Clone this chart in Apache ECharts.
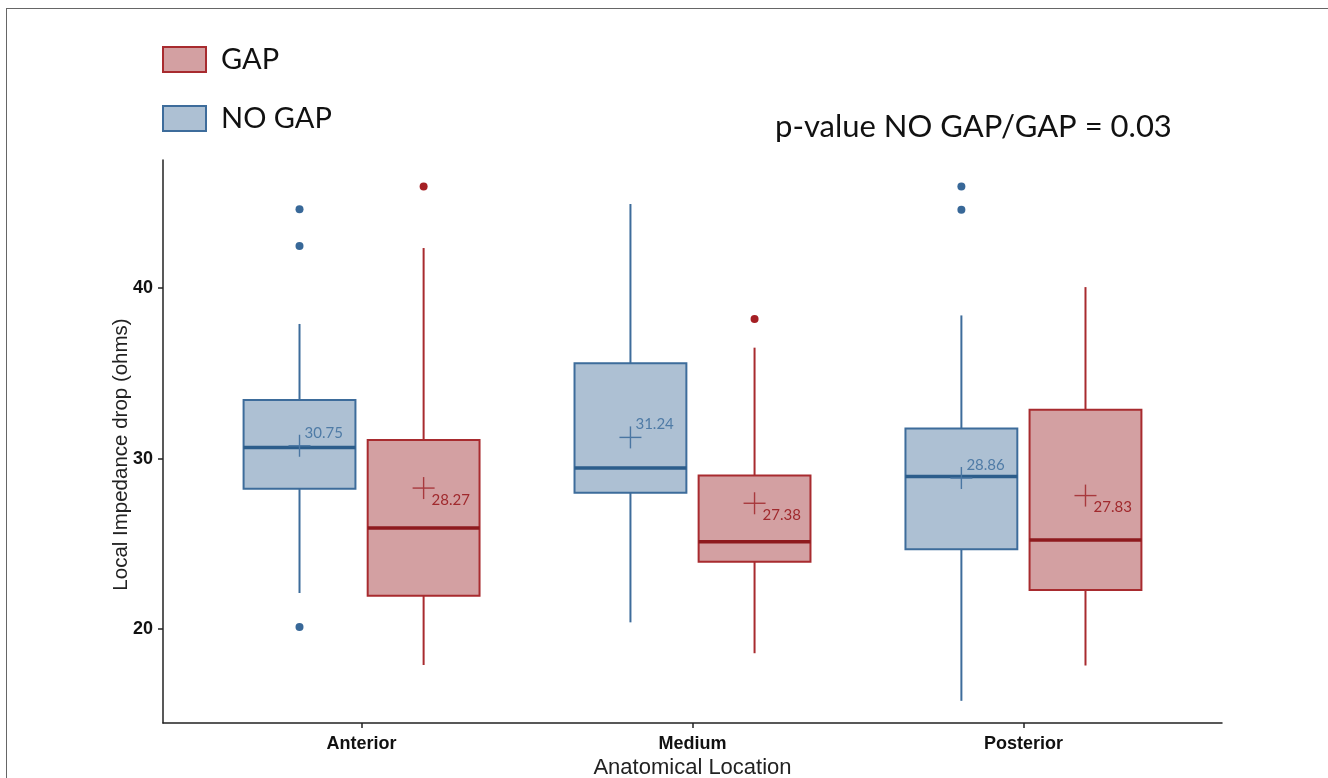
<!DOCTYPE html>
<html>
<head>
<meta charset="utf-8">
<script src="https://cdn.jsdelivr.net/npm/echarts@6/dist/echarts.min.js"></script>
<style>
  html, body { margin: 0; padding: 0; background: #fff; }
  #chart { width: 1328px; height: 778px; position: relative; }
  #frame { position: absolute; left: 6px; top: 8px; width: 1340px; height: 790px;
           border-top: 1.5px solid #666; border-left: 1.5px solid #666; pointer-events: none; }
</style>
</head>
<body>
<div id="chart"></div>
<div id="frame"></div>
<script>
// ---- data ----
const categories = ['Anterior', 'Medium', 'Posterior'];
// [lowWhisker, Q1, median, Q3, highWhisker]
const noGapStats = [
  [22.12, 28.23, 30.65, 33.43, 37.89],
  [20.40, 28.00, 29.45, 35.58, 44.92],
  [15.80, 24.68, 28.95, 31.76, 38.39]
];
const gapStats = [
  [17.90, 21.96, 25.93, 31.09, 42.34],
  [18.59, 23.95, 25.13, 29.00, 36.50],
  [17.87, 22.30, 25.23, 32.86, 40.05]
];
// [categoryIndex, value]
const noGapOutliers = [[0, 44.61], [0, 42.46], [0, 20.13], [2, 45.94], [2, 44.59]];
const gapOutliers = [[0, 45.94], [1, 38.18]];
const noGapMeans = [30.75, 31.24, 28.86];
const gapMeans = [28.27, 27.38, 27.83];
const yTicks = [20, 30, 40];
const pValueText = 'p-value NO GAP/GAP = 0.03';

// ---- style ----
const BLUE = { fill: '#adc0d3', stroke: '#3d6c9b', median: '#2c5d8b', mean: '#4a76a2', label: '#4f7ba6', dot: '#386898' };
const RED = { fill: '#d3a0a2', stroke: '#a82b2f', median: '#8e1a1e', mean: '#a8393d', label: '#a0292d', dot: '#a51f24' };
const BOX_HALF = 0.169;
const DODGE = 0.1875;

function boxRender(offset, c) {
  return function (params, api) {
    const x = api.value(0) + offset;
    const lo = api.value(1), q1 = api.value(2), med = api.value(3), q3 = api.value(4), hi = api.value(5);
    const tl = api.coord([x - BOX_HALF, q3]);
    const br = api.coord([x + BOX_HALF, q1]);
    const top = api.coord([x, hi]);
    const bot = api.coord([x, lo]);
    const mL = api.coord([x - BOX_HALF, med]);
    const mR = api.coord([x + BOX_HALF, med]);
    return {
      type: 'group',
      children: [
        { type: 'line', shape: { x1: top[0], y1: top[1], x2: top[0], y2: tl[1] }, style: { stroke: c.stroke, lineWidth: 2 } },
        { type: 'line', shape: { x1: bot[0], y1: br[1], x2: bot[0], y2: bot[1] }, style: { stroke: c.stroke, lineWidth: 2 } },
        { type: 'rect', shape: { x: tl[0], y: tl[1], width: br[0] - tl[0], height: br[1] - tl[1] },
          style: { fill: c.fill, stroke: c.stroke, lineWidth: 2 } },
        { type: 'line', shape: { x1: mL[0], y1: mL[1], x2: mR[0], y2: mR[1] }, style: { stroke: c.median, lineWidth: 3.5 } }
      ]
    };
  };
}

function meanRender(offset, c, labelDx, labelDy) {
  return function (params, api) {
    const x = api.value(0) + offset;
    const v = api.value(1);
    const p = api.coord([x, v]);
    const s = 11;
    return {
      type: 'group',
      children: [
        { type: 'line', shape: { x1: p[0] - s, y1: p[1], x2: p[0] + s, y2: p[1] }, style: { stroke: c.mean, lineWidth: 1.4 } },
        { type: 'line', shape: { x1: p[0], y1: p[1] - s, x2: p[0], y2: p[1] + s }, style: { stroke: c.mean, lineWidth: 1.4 } },
        { type: 'text', x: p[0] + labelDx, y: p[1] + labelDy,
          style: { text: v.toFixed(2), fill: c.label, font: '15px Lato', align: 'left', verticalAlign: 'middle' } }
      ]
    };
  };
}

const noGapBoxData = noGapStats.map((s, i) => [i + 1].concat(s));
const gapBoxData = gapStats.map((s, i) => [i + 1].concat(s));
const noGapOutData = noGapOutliers.map(d => [d[0] + 1 - DODGE, d[1]]);
const gapOutData = gapOutliers.map(d => [d[0] + 1 + DODGE, d[1]]);
const noGapMeanData = noGapMeans.map((m, i) => [i + 1, m]);
const gapMeanData = gapMeans.map((m, i) => [i + 1, m]);

const chart = echarts.init(document.getElementById('chart'), null, { renderer: 'canvas' });
chart.setOption({
  animation: false,
  backgroundColor: '#fff',
  title: {
    text: pValueText, left: 775, top: 111, padding: 0,
    textStyle: { fontFamily: 'Lato', fontSize: 31, fontWeight: 'normal', color: '#111' }
  },
  legend: {
    orient: 'vertical', left: 162, top: 45, padding: 0,
    itemWidth: 43, itemHeight: 25, itemGap: 30,
    icon: 'rect',
    textStyle: { fontFamily: 'Lato', fontSize: 29, color: '#111', lineHeight: 25, padding: [0, 0, 0, 10] },
    data: [
      { name: 'GAP', itemStyle: { color: RED.fill, borderColor: RED.stroke, borderWidth: 2 } },
      { name: 'NO GAP', itemStyle: { color: BLUE.fill, borderColor: BLUE.stroke, borderWidth: 2 } }
    ]
  },
  grid: { left: 163, right: 106, top: 160, bottom: 55, containLabel: false, outerBoundsMode: 'none' },
  xAxis: {
    type: 'value', min: 0.4, max: 3.6,
    name: 'Anatomical Location', nameLocation: 'middle', nameGap: 34, nameMoveOverlap: false,
    nameTextStyle: { fontFamily: 'Liberation Sans', fontSize: 22, color: '#222' },
    axisLine: { show: true, onZero: false, lineStyle: { color: '#222', width: 1.5 } },
    axisTick: { show: true, length: 5, customValues: [1, 2, 3], lineStyle: { color: '#222', width: 1.5 } },
    axisLabel: {
      customValues: [1, 2, 3], margin: 12,
      formatter: v => categories[Math.round(v) - 1] || '',
      fontFamily: 'Liberation Sans', fontWeight: 'bold', fontSize: 18, color: '#111'
    },
    splitLine: { show: false }
  },
  yAxis: {
    type: 'value', min: 14.5, max: 47.5,
    name: 'Local Impedance drop (ohms)', nameLocation: 'middle', nameGap: 31, nameMoveOverlap: false,
    nameTextStyle: { fontFamily: 'Liberation Sans', fontSize: 20.5, color: '#222', padding: [0, 26, 0, 0] },
    axisLine: { show: true, onZero: false, lineStyle: { color: '#222', width: 1.5 } },
    axisTick: { show: true, length: 5, customValues: yTicks, lineStyle: { color: '#222', width: 1.5 } },
    axisLabel: {
      customValues: yTicks, margin: 10,
      fontFamily: 'Liberation Sans', fontWeight: 'bold', fontSize: 18, color: '#111'
    },
    splitLine: { show: false }
  },
  series: [
    { name: 'NO GAP', type: 'custom', renderItem: boxRender(-DODGE, BLUE), data: noGapBoxData,
      encode: { x: 0, y: [1, 2, 3, 4, 5] }, itemStyle: { color: BLUE.fill }, z: 2 },
    { name: 'GAP', type: 'custom', renderItem: boxRender(DODGE, RED), data: gapBoxData,
      encode: { x: 0, y: [1, 2, 3, 4, 5] }, itemStyle: { color: RED.fill }, z: 2 },
    { name: 'NO GAP', type: 'scatter', data: noGapOutData, symbolSize: 8,
      itemStyle: { color: BLUE.dot, opacity: 1 }, z: 3 },
    { name: 'GAP', type: 'scatter', data: gapOutData, symbolSize: 8,
      itemStyle: { color: RED.dot, opacity: 1 }, z: 3 },
    { name: 'NO GAP', type: 'custom', renderItem: meanRender(-DODGE, BLUE, 5, -13), data: noGapMeanData,
      encode: { x: 0, y: 1 }, z: 4 },
    { name: 'GAP', type: 'custom', renderItem: meanRender(DODGE, RED, 8, 12), data: gapMeanData,
      encode: { x: 0, y: 1 }, z: 4 }
  ]
});
</script>
</body>
</html>
